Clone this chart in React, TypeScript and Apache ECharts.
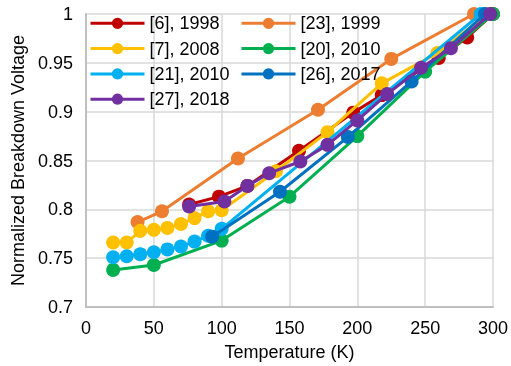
import React, { useEffect, useRef } from "react";
import * as echarts from "echarts";

const seriesNames = ["[6], 1998", "[23], 1999", "[7], 2008", "[20], 2010", "[21], 2010", "[26], 2017", "[27], 2018"];
const seriesColors = ["#C00000", "#ED7D31", "#FFC000", "#00B050", "#00B0F0", "#0070C0", "#7030A0"];

const temps6 = [76, 98, 119, 157, 197, 218, 260, 281, 300];
const volts6 = [0.805, 0.813, 0.824, 0.86, 0.899, 0.917, 0.955, 0.976, 1.0];

const temps23 = [38, 56, 112, 171, 225, 286];
const volts23 = [0.787, 0.798, 0.852, 0.902, 0.954, 1.0];

const temps7 = [20, 30, 40, 50, 60, 70, 80, 90, 100, 140, 178, 218, 259, 296];
const volts7 = [0.766, 0.766, 0.778, 0.779, 0.781, 0.785, 0.791, 0.798, 0.799, 0.839, 0.879, 0.929, 0.96, 1.0];

const temps20 = [20, 50, 100, 150, 200, 250, 300];
const volts20 = [0.738, 0.743, 0.768, 0.813, 0.875, 0.941, 1.0];

const temps21 = [20, 30, 40, 50, 60, 70, 80, 90, 100, 291];
const volts21 = [0.751, 0.752, 0.754, 0.756, 0.759, 0.762, 0.767, 0.773, 0.78, 1.0];

const temps26 = [93, 143, 193, 240, 294];
const volts26 = [0.772, 0.818, 0.874, 0.931, 1.0];

const temps27 = [76, 102, 119, 135, 158, 178, 200, 222, 247, 269, 298];
const volts27 = [0.803, 0.808, 0.824, 0.837, 0.849, 0.866, 0.891, 0.918, 0.945, 0.965, 1.0];

const allTemps = [temps6, temps23, temps7, temps20, temps21, temps26, temps27];
const allVolts = [volts6, volts23, volts7, volts20, volts21, volts26, volts27];

const FONT = "'Liberation Sans', Arial, sans-serif";

export default function App() {
  const ref = useRef<HTMLDivElement>(null);
  useEffect(() => {
    if (!ref.current) return;
    const chart = echarts.init(ref.current, undefined, { renderer: "svg" });
    const legendText = { fontSize: 18, color: "#000", fontFamily: FONT, lineHeight: 18 };
    const legendBase = {
      top: 14.3, orient: "vertical", itemWidth: 54, itemHeight: 14, itemGap: 7.3, padding: 0,
      textStyle: legendText, lineStyle: { width: 3 },
    };
    chart.setOption({
      animation: false,
      textStyle: { fontFamily: FONT },
      grid: { left: 86, right: 15, top: 14, bottom: 58, containLabel: false },
      legend: [
        { ...legendBase, left: 89, data: [seriesNames[0], seriesNames[2], seriesNames[4], seriesNames[6]] },
        { ...legendBase, left: 240, data: [seriesNames[1], seriesNames[3], seriesNames[5]] },
      ],
      xAxis: {
        type: "value", min: 0, max: 300, interval: 50,
        name: "Temperature (K)", nameLocation: "middle", nameGap: 36,
        nameTextStyle: { fontSize: 18, color: "#000", fontFamily: FONT },
        axisLine: { show: true, lineStyle: { color: "#bfbfbf", width: 2 } },
        axisTick: { show: false },
        axisLabel: { fontSize: 18, color: "#000", margin: 12, fontFamily: FONT },
        splitLine: { show: true, lineStyle: { color: "#d9d9d9", width: 1.5 } },
      },
      yAxis: {
        type: "value", min: 0.7, max: 1, interval: 0.05,
        name: "Normalized Breakdown Voltage", nameLocation: "middle", nameGap: 57,
        nameTextStyle: { fontSize: 18, color: "#000", fontFamily: FONT },
        axisLine: { show: true, lineStyle: { color: "#bfbfbf", width: 2 } },
        axisTick: { show: false },
        axisLabel: { fontSize: 18, color: "#000", margin: 13, fontFamily: FONT },
        splitLine: { show: true, lineStyle: { color: "#d9d9d9", width: 1.5 } },
      },
      series: seriesNames.map((name, i) => ({
        name,
        type: "line",
        data: allTemps[i].map((t, j) => [t, allVolts[i][j]]),
        symbol: "circle",
        symbolSize: 14,
        showSymbol: true,
        lineStyle: { color: seriesColors[i], width: 3 },
        itemStyle: { color: seriesColors[i] },
        z: 2 + i,
      })),
    });
    return () => chart.dispose();
  }, []);
  return <div ref={ref} style={{ position: "fixed", left: 0, top: 0, width: 511, height: 366 }} />;
}
